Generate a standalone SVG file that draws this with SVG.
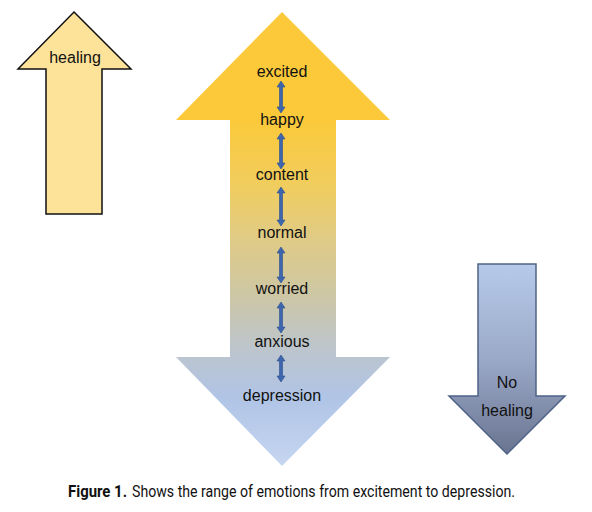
<svg xmlns="http://www.w3.org/2000/svg" width="592" height="512" viewBox="0 0 592 512">
<style>
.lbl{font-family:"Liberation Sans","Open Sans",sans-serif;font-size:16px;fill:#111;text-anchor:middle}
.cap{font-family:"Roboto","Liberation Sans",sans-serif;font-size:16px;fill:#111}
.dbl{fill:#3D66AE;stroke:#2E4F8A;stroke-width:0.6}
</style>
<defs>
<linearGradient id="gBig" x1="0" y1="12" x2="0" y2="466" gradientUnits="userSpaceOnUse">
<stop offset="0" stop-color="#FBC93A"/>
<stop offset="0.24" stop-color="#FBC93A"/>
<stop offset="0.38" stop-color="#F1CD5E"/>
<stop offset="0.5" stop-color="#E0CB86"/>
<stop offset="0.62" stop-color="#CEC7A4"/>
<stop offset="0.74" stop-color="#BDC5CC"/>
<stop offset="0.85" stop-color="#B0C4E6"/>
<stop offset="1" stop-color="#C6D6F0"/>
</linearGradient>
<linearGradient id="gNo" x1="0" y1="264" x2="0" y2="454" gradientUnits="userSpaceOnUse">
<stop offset="0" stop-color="#B7CAEA"/>
<stop offset="0.5" stop-color="#9AA9C8"/>
<stop offset="1" stop-color="#6A7490"/>
</linearGradient>
</defs>

<g id="healing">
<polygon points="74,12 131,69 102,69 102,214 46,214 46,69 18,69" fill="#FDE39A" stroke="#111" stroke-width="1.5"/>
<text class="lbl" x="75" y="63">healing</text>
</g>

<g id="range">
<polygon points="282,12 390,120 336,120 336,357 390,357 282,466 176,357 230,357 230,120 176,120" fill="url(#gBig)"/>
</g>

<g id="excited"><text class="lbl" x="282" y="77">excited</text></g>
<g id="happy"><text class="lbl" x="282" y="125">happy</text></g>
<g id="content"><text class="lbl" x="282" y="180">content</text></g>
<g id="normal"><text class="lbl" x="282" y="238">normal</text></g>
<g id="worried"><text class="lbl" x="282" y="294">worried</text></g>
<g id="anxious"><text class="lbl" x="282" y="347">anxious</text></g>
<g id="depression"><text class="lbl" x="282" y="401">depression</text></g>

<g id="connectors">
<polygon class="dbl" points="281,81 285,87 282.5,87 282.5,107 285,107 281,113 277,107 279.5,107 279.5,87 277,87"/>
<polygon class="dbl" points="281,133 285,139 282.5,139 282.5,163 285,163 281,169 277,163 279.5,163 279.5,139 277,139"/>
<polygon class="dbl" points="281,187 285,193 282.5,193 282.5,220 285,220 281,226 277,220 279.5,220 279.5,193 277,193"/>
<polygon class="dbl" points="281,247 285,253 282.5,253 282.5,277 285,277 281,283 277,277 279.5,277 279.5,253 277,253"/>
<polygon class="dbl" points="281,302 285,308 282.5,308 282.5,327 285,327 281,333 277,327 279.5,327 279.5,308 277,308"/>
<polygon class="dbl" points="281,355 285,361 282.5,361 282.5,376 285,376 281,382 277,376 279.5,376 279.5,361 277,361"/>
</g>

<g id="no-healing">
<polygon points="478,264 536,264 536,396 565,396 507,454 449,396 478,396" fill="url(#gNo)" stroke="#4F6388" stroke-width="1.5"/>
<text class="lbl" x="507" y="388">No</text>
<text class="lbl" x="507" y="416">healing</text>
</g>

<g id="caption">
<text class="cap" x="68" y="497" font-weight="bold" textLength="59" lengthAdjust="spacingAndGlyphs">Figure 1.</text>
<text class="cap" x="132" y="497" textLength="383" lengthAdjust="spacingAndGlyphs">Shows the range of emotions from excitement to depression.</text>
</g>
</svg>
